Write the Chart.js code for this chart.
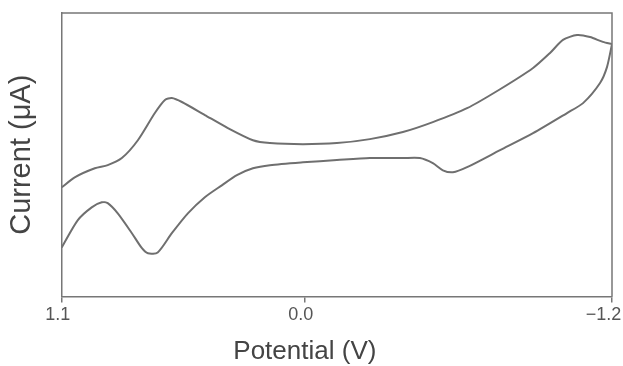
<!DOCTYPE html>
<html>
<head>
<meta charset="utf-8">
<script src="https://cdn.jsdelivr.net/npm/chart.js@4.4.1/dist/chart.umd.min.js"></script>
<style>
  html, body { margin: 0; padding: 0; background: #fff; }
  #wrap { width: 623px; height: 366px; }
</style>
</head>
<body>
<div id="wrap"><canvas id="grafico"></canvas></div>
<script>
// varredura de ida (curva de cima), potencial em V, corrente em unidades arbitrarias (0-100)
const forwardPotential = [1.100, 1.046, 0.962, 0.908, 0.849, 0.782, 0.711, 0.669, 0.640, 0.598, 0.502, 0.406, 0.301, 0.230, 0.092, -0.050, -0.188, -0.326, -0.451, -0.594, -0.732, -0.870, -0.941, -0.995, -1.054, -1.108, -1.162, -1.200];
const forwardCurrent = [38.5, 42.0, 45.2, 46.3, 48.8, 55.1, 64.7, 69.3, 70.0, 68.6, 64.0, 59.4, 55.1, 54.1, 53.7, 54.1, 55.5, 58.0, 61.5, 66.4, 73.1, 80.6, 85.9, 90.5, 92.2, 91.5, 89.8, 89.0];

// varredura de volta (curva de baixo)
const reversePotential = [-1.200, -1.179, -1.150, -1.079, -1.012, -0.870, -0.732, -0.594, -0.535, -0.493, -0.451, -0.397, -0.326, -0.188, -0.050, 0.092, 0.230, 0.301, 0.368, 0.431, 0.502, 0.573, 0.640, 0.699, 0.740, 0.765, 0.807, 0.866, 0.908, 0.933, 0.975, 1.033, 1.100];
const reverseCurrent = [89.0, 80.9, 75.3, 68.2, 64.7, 57.6, 51.6, 45.6, 43.8, 44.5, 47.0, 48.8, 48.8, 48.8, 48.1, 47.3, 46.3, 45.2, 42.8, 39.2, 35.0, 29.3, 22.3, 15.5, 15.2, 17.0, 22.3, 29.3, 32.9, 33.2, 31.4, 26.9, 17.3];

// no original a marca "0.0" fica um pouco a direita do zero real
const tickValues = [1.1, 0.084, -1.2];
// espaco no fim do ultimo rotulo para ele nao sair da figura
const tickLabels = ['1.1', '0.0', '\u22121.2\u2002'];

const xTitle = 'Potential (V)';
const yTitle = 'Current (\u03bcA)';

const cinza = '#6f6f6f';
const fonte = '"Liberation Sans", Arial, sans-serif';

function pontos(xs, ys) {
    return xs.map((x, i) => ({ x: x, y: ys[i] }));
}

// linhas de cima e da direita da moldura + titulo do eixo x sob o "0.0"
const moldura = {
    id: 'moldura',
    afterDraw(chart) {
        const a = chart.chartArea;
        const ctx = chart.ctx;
        ctx.save();
        ctx.strokeStyle = '#777';
        ctx.lineWidth = 1.5;
        ctx.beginPath();
        ctx.moveTo(a.left, a.top);
        ctx.lineTo(a.right, a.top);
        ctx.lineTo(a.right, a.bottom);
        ctx.stroke();
        ctx.fillStyle = '#444';
        ctx.font = '26px ' + fonte;
        ctx.textAlign = 'center';
        ctx.textBaseline = 'middle';
        ctx.fillText(xTitle, chart.scales.x.getPixelForValue(tickValues[1]), 352);
        ctx.restore();
    }
};

const ctx = document.getElementById('grafico').getContext('2d');
new Chart(ctx, {
    type: 'line',
    data: {
        datasets: [
            {
                label: 'ida',
                data: pontos(forwardPotential, forwardCurrent),
                borderColor: cinza,
                borderWidth: 2,
                pointRadius: 0,
                tension: 0.25,
                fill: false
            },
            {
                label: 'volta',
                data: pontos(reversePotential, reverseCurrent),
                borderColor: cinza,
                borderWidth: 2,
                pointRadius: 0,
                tension: 0.25,
                fill: false
            }
        ]
    },
    options: {
        responsive: true,
        maintainAspectRatio: false,
        animation: false,
        layout: { padding: { top: 13, right: 11, bottom: 38, left: 2 } },
        plugins: {
            legend: { display: false },
            tooltip: { enabled: false }
        },
        scales: {
            x: {
                type: 'linear',
                reverse: true,
                min: -1.2,
                max: 1.1,
                afterBuildTicks: (scale) => {
                    scale.ticks = tickValues.map(v => ({ value: v }));
                },
                afterFit: (scale) => {
                    scale.paddingLeft = 0;
                    scale.paddingRight = 0;
                },
                ticks: {
                    autoSkip: false,
                    maxRotation: 0,
                    padding: 2,
                    labelOffset: -4,
                    color: '#555',
                    font: { family: fonte, size: 18 },
                    callback: (value, i) => tickLabels[i]
                },
                grid: {
                    drawOnChartArea: false,
                    drawTicks: true,
                    tickLength: 6,
                    color: '#777',
                    lineWidth: 1.5
                },
                border: { display: true, color: '#777', width: 1.5 }
            },
            y: {
                min: 0,
                max: 100,
                ticks: { display: false },
                grid: { display: false },
                border: { display: true, color: '#777', width: 1.5 },
                title: {
                    display: true,
                    text: yTitle,
                    color: '#444',
                    font: { family: fonte, size: 29 },
                    padding: { top: 3, bottom: 14 }
                }
            }
        }
    },
    plugins: [moldura]
});
</script>
</body>
</html>
